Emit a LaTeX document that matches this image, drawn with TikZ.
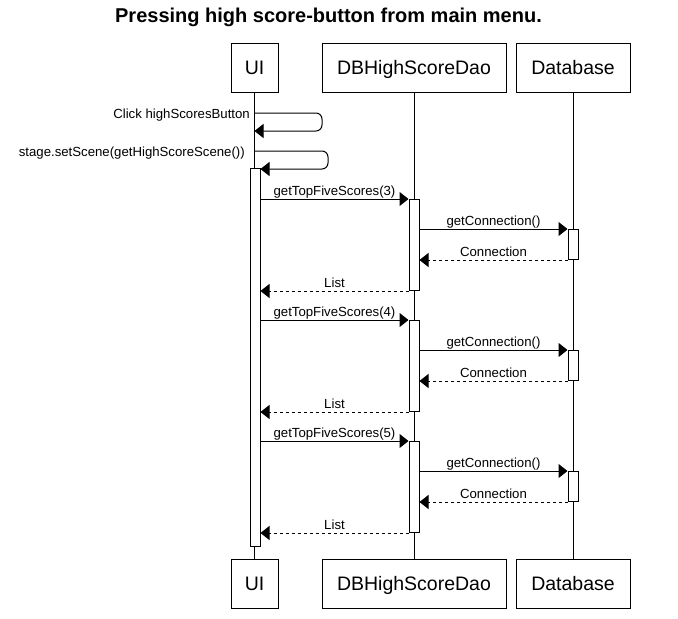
\documentclass[tikz,border=0pt]{standalone}
\usepackage{fontspec}
\setmainfont{Liberation Sans}
\usetikzlibrary{arrows.meta}
\begin{document}
\begin{tikzpicture}[x=1pt,y=-1pt,
  obj/.style={draw, line width=1pt, minimum height=49pt, inner sep=0pt,
    font=\fontsize{19.5}{22}\selectfont, text height=14pt, text depth=0pt},
  life/.style={line width=1pt},
  actbox/.style={draw, fill=white, line width=1pt, minimum width=10pt, inner sep=0pt, anchor=north},
  msg/.style={line width=1pt, -{Triangle[length=9pt,width=14pt]}},
  ret/.style={msg, dash pattern=on 3pt off 3pt},
  lblfont/.style={font=\fontsize{13.2}{15}\selectfont, inner sep=0pt},
  lbl/.style={lblfont, anchor=base, yshift=3.5pt},
  sidelbl/.style={lblfont, anchor=base east}
]
\useasboundingbox (0,0) rectangle (678,619);
\node[font=\bfseries\fontsize{20}{24}\selectfont, anchor=base] (title) at (328.5,22) {Pressing high score-button from main menu.};

% objects
\node[obj, minimum width=47pt] (ui) at (254.5,67.5) {UI};
\node[obj, minimum width=184pt] (dao) at (414,67.5) {DBHighScoreDao};
\node[obj, minimum width=114pt] (db) at (573,67.5) {Database};
\node[obj, minimum width=47pt] (uib) at (254.5,583.5) {UI};
\node[obj, minimum width=184pt] (daob) at (414,583.5) {DBHighScoreDao};
\node[obj, minimum width=114pt] (dbb) at (573,583.5) {Database};

% lifelines
\draw[life] (ui.south) -- (uib.north);
\draw[life] (dao.south) -- (daob.north);
\draw[life] (db.south) -- (dbb.north);

% activations
\node[actbox, minimum height=378pt] (uiact) at (255,168) {};
\foreach \i/\y in {1/199,2/320,3/441}{
  \node[actbox, minimum height=91pt] (d\i) at (414,\y) {};
  \node[actbox, minimum height=30pt] (b\i) at (573,\y+30) {};
}

% self messages
\node[sidelbl] (l0) at (250,118) {Click highScoresButton};
\draw[msg, rounded corners=6pt] (ui.south |- 0,113) -- (322,113) -- (322,131) -- (ui.south |- 0,131);
\node[sidelbl] (l00) at (245,156) {stage.setScene(getHighScoreScene())};
\draw[msg, rounded corners=6pt] (ui.south |- 0,151) -- (328,151) -- (328,169) -- (uiact.east |- 0,169);

% groups
\foreach \i/\n in {1/3,2/4,3/5}{
  \draw[msg] (uiact.east |- d\i.north) -- node[lbl]{getTopFiveScores(\n)} (d\i.north west);
  \draw[msg] (d\i.east |- b\i.north) -- node[lbl]{getConnection()} (b\i.north west);
  \draw[ret] (b\i.south west) -- node[lbl]{Connection} (d\i.east |- b\i.south);
  \draw[ret] (d\i.south west) -- node[lbl]{List} (uiact.east |- d\i.south);
}
\end{tikzpicture}
\end{document}
